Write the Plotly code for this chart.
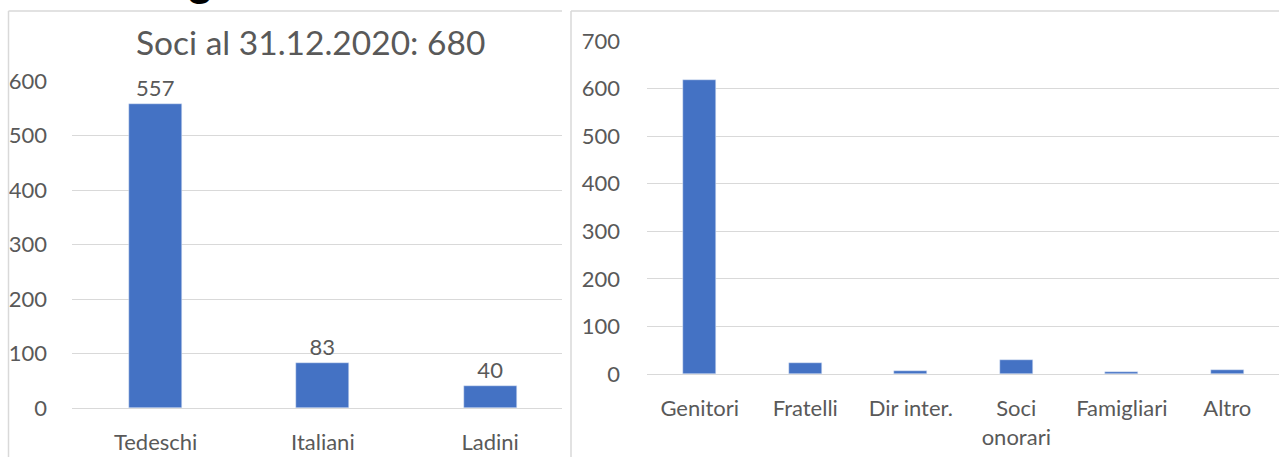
import plotly.graph_objects as go

W, H = 1279, 457

# Left chart data
left_categories = ["Tedeschi", "Italiani", "Ladini"]
left_values = [557, 83, 40]
left_title = "Soci al 31.12.2020: 680"
left_yticks = [0, 100, 200, 300, 400, 500, 600]

# Right chart data
right_categories = ["Genitori", "Fratelli", "Dir inter.", "Soci<br>onorari", "Famigliari", "Altro"]
right_values = [617, 23, 6, 30, 4, 8]
right_yticks = [0, 100, 200, 300, 400, 500, 600, 700]

BLUE = "#4472C4"
GRID = "#D9D9D9"
TXT = "#595959"
FONT = "Lato"
FS = 22


def px_x(p):
    return p / W


def px_y(p):
    return 1 - p / H


fig = go.Figure()

fig.add_trace(go.Bar(
    x=left_categories, y=left_values, marker_color=BLUE, width=0.317,
    text=[str(v) for v in left_values], textposition="outside",
    textfont=dict(color=TXT, size=FS, family=FONT), cliponaxis=False,
    constraintext="none", xaxis="x", yaxis="y", showlegend=False,
))
fig.add_trace(go.Bar(
    x=right_categories, y=right_values, marker_color=BLUE, width=0.31,
    xaxis="x2", yaxis="y2", showlegend=False,
))

axis_font = dict(color=TXT, size=FS, family=FONT)

fig.update_layout(
    width=W, height=H,
    margin=dict(l=0, r=0, t=0, b=0, pad=0),
    paper_bgcolor="white", plot_bgcolor="white",
    font=dict(family=FONT, color=TXT),
    xaxis=dict(domain=[px_x(72), px_x(562)], range=[-0.5, 2.43], automargin=False,
               showgrid=False, showline=False, zeroline=False,
               tickfont=axis_font, ticks="", ticklabelstandoff=19),
    yaxis=dict(domain=[px_y(408), px_y(81)], range=[0, 600], automargin=False,
               tickvals=left_yticks, showgrid=True, gridcolor=GRID, gridwidth=1.3,
               zeroline=True, zerolinecolor=GRID, zerolinewidth=1.3,
               tickfont=axis_font, ticks="", ticklabelstandoff=24),
    xaxis2=dict(domain=[px_x(647), 1], range=[-0.5, 5.49], automargin=False,
                showgrid=False, showline=False, zeroline=False,
                tickfont=axis_font, ticks="", ticklabelstandoff=19, anchor="y2"),
    yaxis2=dict(domain=[px_y(374), px_y(41)], range=[0, 700], automargin=False,
                tickvals=right_yticks, showgrid=True, gridcolor=GRID, gridwidth=1.3,
                zeroline=True, zerolinecolor=GRID, zerolinewidth=1.3,
                tickfont=axis_font, ticks="", ticklabelstandoff=26, anchor="x2"),
    bargap=0,
)

line = dict(color=GRID, width=1.5)
fig.add_shape(type="line", xref="paper", yref="paper", x0=px_x(8.5), x1=px_x(8.5), y0=0, y1=px_y(11), line=line)
fig.add_shape(type="line", xref="paper", yref="paper", x0=px_x(8.5), x1=px_x(562), y0=px_y(11), y1=px_y(11), line=line)
fig.add_shape(type="line", xref="paper", yref="paper", x0=px_x(571), x1=px_x(571), y0=0, y1=px_y(11), line=line)
fig.add_shape(type="line", xref="paper", yref="paper", x0=px_x(571), x1=1, y0=px_y(11), y1=px_y(11), line=line)

fig.add_annotation(text=left_title, xref="paper", yref="paper", x=px_x(310), y=px_y(42),
                   xanchor="center", yanchor="middle", showarrow=False,
                   font=dict(size=33.5, color=TXT, family=FONT))

# partial heading glyph cut off at the top of the picture
fig.add_annotation(text="<b>g</b>", xref="paper", yref="paper", x=px_x(200), y=px_y(-22),
                   xanchor="center", yanchor="middle", showarrow=False,
                   font=dict(size=46, color="black", family="Liberation Sans"))

fig.write_html("out.html")
